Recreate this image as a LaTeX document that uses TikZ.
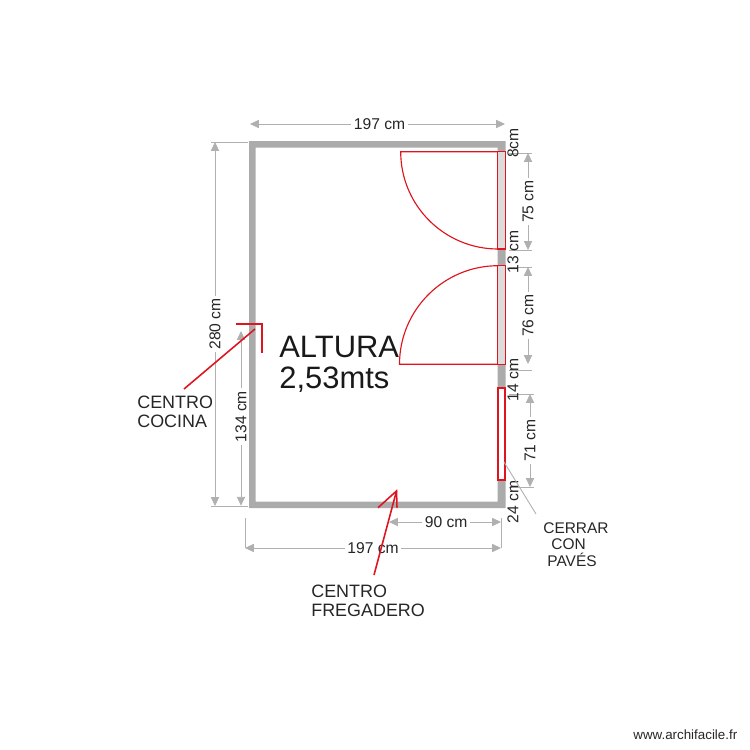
\documentclass[tikz,border=0pt]{standalone}
\usepackage{fontspec}
\setmainfont{Liberation Sans}
\usetikzlibrary{arrows.meta}
\definecolor{wallgray}{HTML}{ABABAB}
\definecolor{doorgray}{HTML}{DCDCDC}
\definecolor{dimgray}{HTML}{B0B0B0}
\definecolor{planred}{HTML}{E0141E}
\tikzset{
	dim/.style={draw=dimgray, line width=0.45pt, {Triangle[length=5pt,width=4.6pt]}-{Triangle[length=5pt,width=4.6pt]}},
	extline/.style={draw=dimgray, line width=0.35pt},
	dimlabel/.style={fill=white, inner sep=1.5pt, font=\fontsize{8.9}{10}\selectfont, text=black!85},
	sidelabel/.style={inner sep=0pt, rotate=90, font=\fontsize{8.9}{10}\selectfont, text=black!85},
	note/.style={inner sep=0pt, anchor=west, font=\fontsize{10.2}{10.9}\selectfont, text=black!85},
	smallnote/.style={note, font=\fontsize{8.8}{10}\selectfont},
	redline/.style={draw=planred, line width=0.65pt},
	redleader/.style={draw=planred, line width=0.9pt}
}
\begin{document}
\begin{tikzpicture}[x=0.02cm, y=-0.02cm]
			%%%%% START %%%%%
			\useasboundingbox (0, 0) rectangle (750, 750);
			
			\fill[wallgray, even odd rule] (249, 141) rectangle (505.5, 508) (255.7, 147.5) rectangle (497.7, 501.7);
			
			% doors
			\draw[redline, fill=doorgray] (497.7, 151.7) rectangle (505.5, 249);
			\draw[redline] (497.7, 151.7) -- (400.7, 151.7) arc (180:90:97.3);
			\draw[redline, fill=doorgray] (497.7, 265.7) rectangle (505.5, 364.3);
			\draw[redline] (497.7, 364.3) -- (399.5, 364.3) arc (180:270:98.6);
			
			% window
			\draw[draw=planred, line width=1pt, fill=white] (498, 387.7) rectangle (505, 480);
			
			% outer dimensions
			\draw[dim] (250, 124) -- node[dimlabel, pos=0.508] (top197) {197 cm} (505, 124);
			\draw[dim] (215, 142) -- node[dimlabel, rotate=90] (left280) {280 cm} (215, 506);
			\draw[extline] (211, 142) -- (248, 142);
			\draw[extline] (211, 506) -- (248, 506);
			\draw[dim] (241, 331) -- node[dimlabel, rotate=90, pos=0.49] (left134) {134 cm} (241, 505.7);
			\draw[dim] (245, 548) -- node[dimlabel] (bottom197) {197 cm} (501, 548);
			\draw[extline] (245, 518) -- (245, 548);
			\draw[extline] (501, 518) -- (501, 548);
			\draw[dim] (389, 522) -- node[dimlabel, pos=0.51] (bottom90) {90 cm} (501, 522);
			
			% right side dimensions
			\draw[dim] (528, 153) -- node[dimlabel, rotate=90] (door75) {75 cm} (528, 250);
			\draw[extline] (509, 153) -- (532, 153);
			\draw[extline] (509, 250) -- (532, 250);
			\draw[dim] (528, 267) -- node[dimlabel, rotate=90] (door76) {76 cm} (528, 364);
			\draw[extline] (509, 267) -- (532, 267);
			\draw[extline] (509, 370) -- (532, 370);
			\draw[dim] (530, 394) -- node[dimlabel, rotate=90] (window71) {71 cm} (530, 487);
			\draw[extline] (509, 394) -- (534, 394);
			\draw[extline] (509, 487) -- (534, 487);
			
			\node[sidelabel] (gap8) at (513, 143) {8cm};
			\node[sidelabel] (gap13) at (513, 252) {13 cm};
			\node[sidelabel] (gap14) at (513, 380) {14 cm};
			\node[sidelabel] (gap24) at (513, 502) {24 cm};
			
			% notes
			\node[inner sep=0pt, anchor=west, font=\fontsize{17.6}{17.8}\selectfont, align=left, text=black!90] (altura) at (279, 364) {ALTURA\\2,53mts};
			
			\node[note, align=left] (cocina) at (137, 411.5) {CENTRO\\COCINA};
			\draw[redleader] (184, 389) -- (255, 329);
			\draw[redleader] (236, 324) -- (262, 324) -- (262, 353);
			
			\node[note, align=left] (fregadero) at (311, 600.5) {CENTRO\\FREGADERO};
			\draw[redleader] (374, 575) -- (396.5, 491);
			\draw[redleader] (378, 507.7) -- (396.5, 491) -- (397, 507.7);
			
			\node[smallnote] (cerrar) at (543, 528.5) {CERRAR};
			\node[smallnote] (con) at (551, 544) {CON};
			\node[smallnote] (paves) at (547, 559.5) {PAVÉS};
			\draw[extline, line width=0.5pt] (504, 462) -- (536, 514);
			
			\node[note, font=\fontsize{7.6}{8}\selectfont] (site) at (633, 735) {www.archifacile.fr};
			%%%%% END %%%%%
\end{tikzpicture}
\end{document}
